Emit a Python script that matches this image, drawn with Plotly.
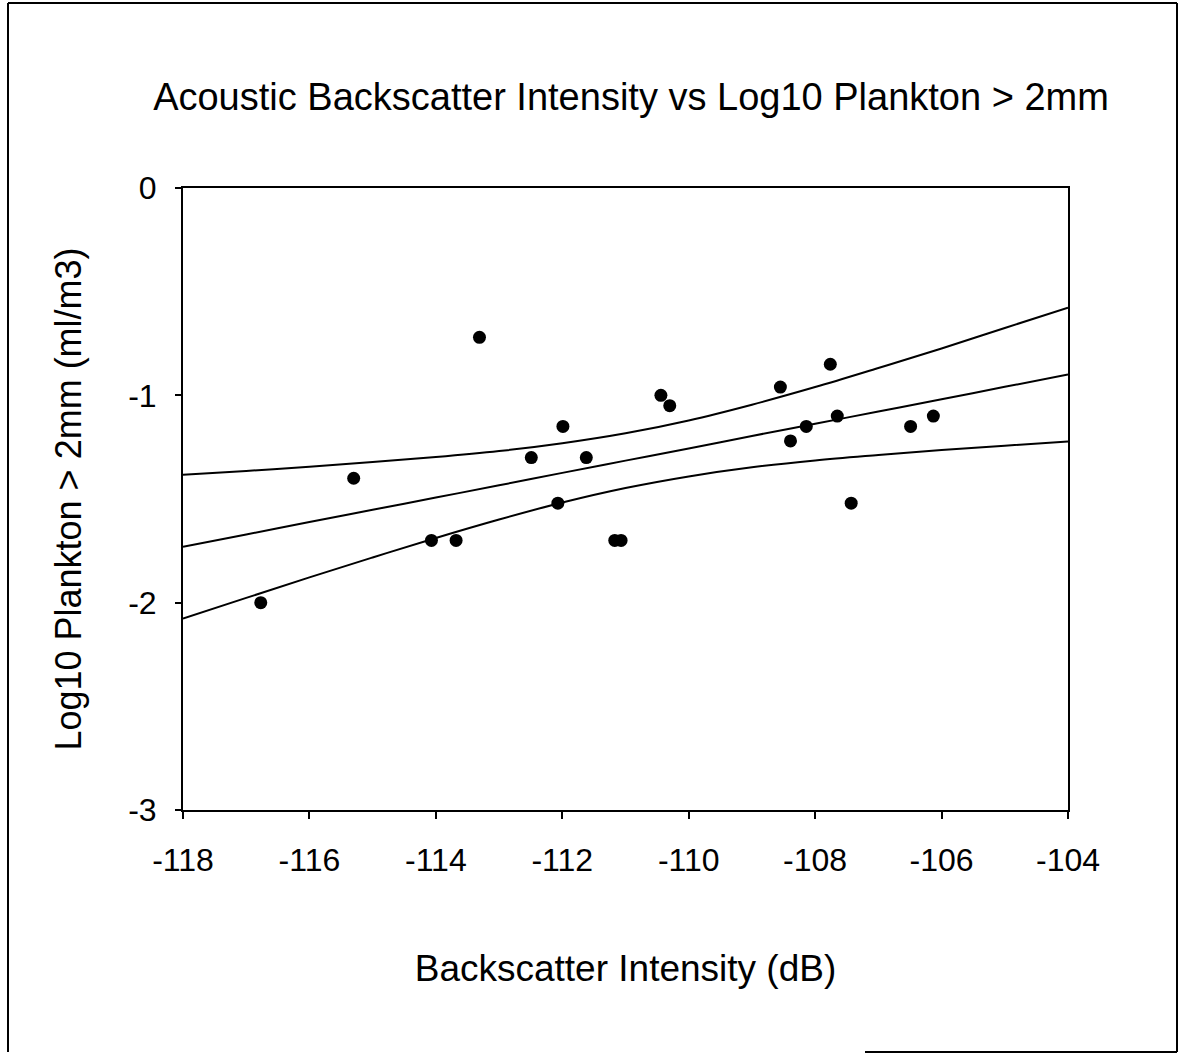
import plotly.graph_objects as go

# Observed data points (Backscatter dB, Log10 plankton > 2mm)
backscatter_db = [-116.77, -115.30, -114.07, -113.68, -113.31, -112.49, -112.07, -111.99,
                  -111.62, -111.17, -111.07, -110.44, -110.30, -108.55, -108.39, -108.14,
                  -107.76, -107.65, -107.43, -106.49, -106.13]
log10_plankton = [-2.00, -1.40, -1.70, -1.70, -0.72, -1.30, -1.52, -1.15,
                  -1.30, -1.70, -1.70, -1.00, -1.05, -0.96, -1.22, -1.15,
                  -0.85, -1.10, -1.52, -1.15, -1.10]

# Regression line and confidence band readings
band_x = [-118, -117, -116, -115, -114, -113, -112, -111, -110, -109, -108, -107, -106, -105, -104]
fit_mid = [-1.730, -1.671, -1.611, -1.552, -1.493, -1.434, -1.374, -1.315, -1.256, -1.196,
           -1.137, -1.078, -1.019, -0.959, -0.900]
fit_upper = [-1.383, -1.365, -1.344, -1.322, -1.298, -1.269, -1.231, -1.183, -1.121, -1.045,
             -0.960, -0.868, -0.774, -0.675, -0.577]
fit_lower = [-2.077, -1.977, -1.878, -1.782, -1.688, -1.599, -1.517, -1.447, -1.391, -1.347,
             -1.314, -1.288, -1.264, -1.243, -1.223]

x_ticks = [-118, -116, -114, -112, -110, -108, -106, -104]
y_ticks = [0, -1, -2, -3]

FONT = "Liberation Sans, Arial, sans-serif"

fig = go.Figure()
for ys in (fit_upper, fit_mid, fit_lower):
    fig.add_trace(go.Scatter(x=band_x, y=ys, mode="lines",
                             line=dict(color="black", width=2, shape="spline"),
                             showlegend=False, hoverinfo="skip"))
fig.add_trace(go.Scatter(x=backscatter_db, y=log10_plankton, mode="markers",
                         marker=dict(color="black", size=13), showlegend=False))

L, R, T, B = 183, 111, 188, 245
W, H = 1179, 1055
fig.update_layout(
    width=W, height=H,
    paper_bgcolor="white", plot_bgcolor="white",
    margin=dict(l=L, r=R, t=T, b=B, autoexpand=False),
    font=dict(family=FONT, color="black", size=32),
    title=dict(text="Acoustic Backscatter Intensity vs Log10 Plankton > 2mm",
               x=631 / W, xanchor="center", y=1 - 97 / H, yanchor="middle",
               font=dict(size=38, family=FONT, color="black")),
)

# Outer frame (pixel positions converted to paper coordinates)
pw = W - L - R
ph = H - T - B
def px(xp):
    return (xp - L) / pw
def py(yp):
    return (H - B - yp) / ph

frame = [
    (8, 3, 1177, 3),
    (8, 3, 8, 1052),
    (1177, 3, 1177, 1052),
    (865, 1052, 1177, 1052),
]
for x0, y0, x1, y1 in frame:
    fig.add_shape(type="line", xref="paper", yref="paper",
                  x0=px(x0), y0=py(y0), x1=px(x1), y1=py(y1),
                  line=dict(color="black", width=2))

fig.update_xaxes(range=[-118, -104], tickvals=x_ticks, ticktext=[str(v) for v in x_ticks],
                 showgrid=False, zeroline=False, showline=True, linecolor="black", linewidth=2,
                 mirror=True, ticks="outside", ticklen=7, tickcolor="black", tickwidth=1.5,
                 ticklabelstandoff=14, tickfont=dict(size=32, family=FONT),
                 title=dict(text="Backscatter Intensity (dB)", standoff=78,
                            font=dict(size=37, family=FONT)))
fig.update_yaxes(range=[-3, 0], tickvals=y_ticks, ticktext=[str(v) for v in y_ticks],
                 showgrid=False, zeroline=False, showline=True, linecolor="black", linewidth=2,
                 mirror=True, ticks="outside", ticklen=6, tickcolor="black", tickwidth=1.5,
                 ticklabelstandoff=12, tickfont=dict(size=32, family=FONT),
                 title=dict(text="Log10 Plankton > 2mm (ml/m3)", standoff=36,
                            font=dict(size=36, family=FONT)))

fig.write_html("out.html")
